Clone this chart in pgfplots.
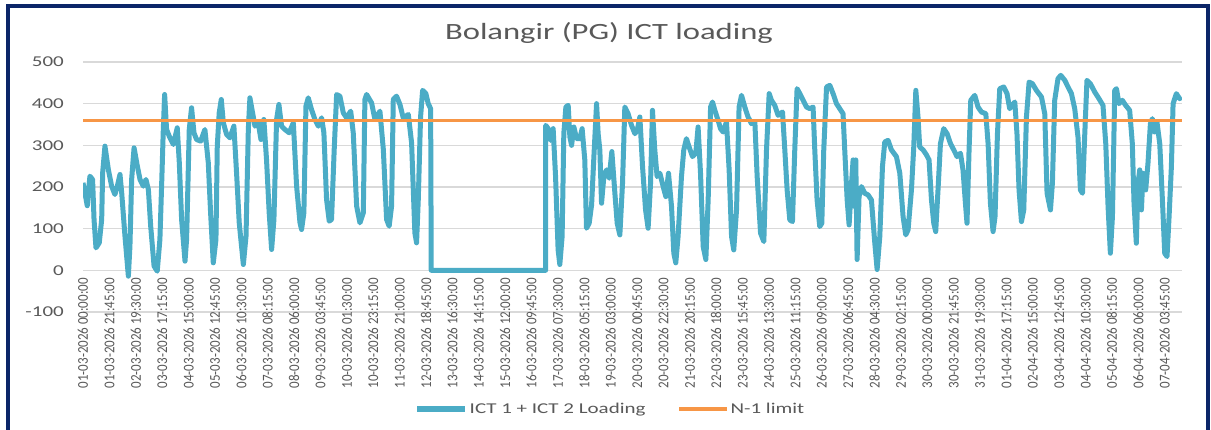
\documentclass[border=0pt]{standalone}
\usepackage{fontspec}
\setmainfont{Carlito}
\usepackage{graphicx}
\usepackage{pgfplots}
\pgfplotsset{compat=1.18}
\definecolor{ictblue}{HTML}{4BACC6}
\definecolor{nlim}{HTML}{F79646}
\definecolor{txtgray}{HTML}{595959}
\definecolor{gridgray}{HTML}{D9D9D9}
\definecolor{brd}{HTML}{0B2568}
\newcommand\sx[1]{\scalebox{1.4}[1]{#1}}
\newcommand\sv[1]{\scalebox{1}[1.15]{#1}}
\begin{document}
\begin{tikzpicture}
\useasboundingbox (0,0) rectangle (1211bp,430bp);
\fill[white] (0,0) rectangle (1211bp,430bp);
\begin{axis}[
  at={(83bp,118bp)}, anchor=south west,
  scale only axis, width=1099bp, height=250bp,
  xmin=0, xmax=906, ymin=-100, ymax=500,
  axis line style={draw=none},
  major tick length=0pt,
  ytick={-100,0,100,200,300,400,500},
  yticklabels={\sx{-100},\sx{0},\sx{100},\sx{200},\sx{300},\sx{400},\sx{500}},
  ymajorgrids,
  grid style={draw=gridgray, line width=1.2bp},
  yticklabel style={font=\fontsize{15bp}{18bp}\selectfont, text=txtgray, inner sep=0pt},
  yticklabel shift=19bp,
  xtick={0,21.75,43.5,65.25,87,108.75,130.5,152.25,174,195.75,217.5,239.25,261,282.75,304.5,326.25,348,369.75,391.5,413.25,435,456.75,478.5,500.25,522,543.75,565.5,587.25,609,630.75,652.5,674.25,696,717.75,739.5,761.25,783,804.75,826.5,848.25,870,891.75},
  xticklabels={\sv{01-03-2026 00:00:00},\sv{01-03-2026 21:45:00},\sv{02-03-2026 19:30:00},\sv{03-03-2026 17:15:00},\sv{04-03-2026 15:00:00},\sv{05-03-2026 12:45:00},\sv{06-03-2026 10:30:00},\sv{07-03-2026 08:15:00},\sv{08-03-2026 06:00:00},\sv{09-03-2026 03:45:00},\sv{10-03-2026 01:30:00},\sv{10-03-2026 23:15:00},\sv{11-03-2026 21:00:00},\sv{12-03-2026 18:45:00},\sv{13-03-2026 16:30:00},\sv{14-03-2026 14:15:00},\sv{15-03-2026 12:00:00},\sv{16-03-2026 09:45:00},\sv{17-03-2026 07:30:00},\sv{18-03-2026 05:15:00},\sv{19-03-2026 03:00:00},\sv{20-03-2026 00:45:00},\sv{20-03-2026 22:30:00},\sv{21-03-2026 20:15:00},\sv{22-03-2026 18:00:00},\sv{23-03-2026 15:45:00},\sv{24-03-2026 13:30:00},\sv{25-03-2026 11:15:00},\sv{26-03-2026 09:00:00},\sv{27-03-2026 06:45:00},\sv{28-03-2026 04:30:00},\sv{29-03-2026 02:15:00},\sv{30-03-2026 00:00:00},\sv{30-03-2026 21:45:00},\sv{31-03-2026 19:30:00},\sv{01-04-2026 17:15:00},\sv{02-04-2026 15:00:00},\sv{03-04-2026 12:45:00},\sv{04-04-2026 10:30:00},\sv{05-04-2026 08:15:00},\sv{06-04-2026 06:00:00},\sv{07-04-2026 03:45:00}},
  xticklabel style={font=\fontsize{13bp}{15bp}\selectfont, text=txtgray, rotate=90, anchor=east, inner sep=0pt},
  xticklabel shift=-34bp,
  legend style={at={(0.48,-0.388)}, anchor=center, draw=none, fill=none,
    legend columns=2, font=\fontsize{15bp}{18bp}\selectfont, text=txtgray,
    /tikz/every even column/.append style={column sep=30bp}},
  legend image code/.code={\draw[#1] (0bp,0bp) -- (48bp,0bp);},
]
\addplot[ictblue, line width=5bp, line join=round] coordinates {
(0,210) (1.6,186) (3.5,155) (5.7,226) (7.9,218) (9.1,122) (10.7,54) (13.4,66) (15.4,122) (16.2,234) (18.1,298) (20.9,242) (23.6,202) (26.3,182) (28.3,202) (30.5,230) (31.9,186) (34.6,82) (37.4,-14) (38.7,58) (40.1,218) (42.1,294) (44.8,250) (47.0,218) (49.7,202) (51.9,218) (53.9,194) (55.8,106) (58.6,10) (61.2,-2) (63.4,74) (64.8,202) (66.2,338) (67.3,422) (68.9,338) (71.1,322) (74.5,302) (77.7,342) (79.4,258) (81.3,122) (84.1,22) (85.4,74) (87.6,338) (89.5,390) (91.5,330) (93.6,314) (97.0,310) (100.5,338) (103.3,258) (105.2,138) (107.4,18) (109.6,74) (110.7,298) (112.3,378) (114.0,410) (115.7,354) (118.4,326) (121.1,318) (124.4,346) (126.6,234) (128.8,114) (132.2,14) (134.4,82) (136.3,338) (137.6,414) (139.8,378) (141.8,346) (144.5,354) (146.7,314) (149.1,362) (151.3,266) (153.5,138) (155.5,50) (157.4,122) (159.6,362) (161.5,398) (163.7,346) (166.5,338) (170.0,330) (173.4,354) (176.1,202) (178.9,114) (180.2,98) (182.1,138) (183.8,394) (185.7,414) (188.4,386) (191.2,362) (194.0,346) (196.7,366) (198.6,330) (200.8,170) (203.0,118) (204.9,122) (207.1,290) (209.1,422) (211.8,418) (214.6,378) (217.3,366) (220.7,382) (222.8,330) (225.6,154) (228.3,114) (231.1,138) (232.4,410) (233.8,422) (237.9,402) (240.7,362) (244.8,382) (247.6,290) (250.3,122) (252.4,106) (254.4,154) (255.8,410) (258.5,418) (261.3,398) (264.0,366) (268.2,374) (270.9,306) (273.6,90) (275.0,66) (276.4,169) (278.3,368) (280.0,432) (282.7,424) (284.6,400) (286.6,388) (287.1,0) (381.4,0)
(381.5,348) (383.5,340) (385.5,312) (387.6,340) (389.6,225) (391.7,49) (393.1,14) (395.0,81) (396.4,328) (398.1,392) (400.0,396) (401.4,320) (402.8,300) (404.7,344) (406.9,316) (409.6,316) (411.5,340) (413.7,265) (415.1,101) (417.3,113) (419.3,157) (421.2,273) (423.4,400) (424.7,328) (426.1,289) (427.5,161) (429.4,225) (431.6,241) (433.8,221) (436.0,285) (438.5,185) (440.4,113) (442.6,85) (444.8,209) (446.7,392) (449.4,376) (452.2,348) (455.0,328) (456.9,336) (459.1,368) (461.3,249) (463.8,145) (465.9,101) (467.9,209) (469.5,384) (471.4,289) (473.3,225) (475.6,233) (478.3,201) (480.5,177) (482.7,233) (485.2,153) (487.1,41) (488.7,18) (490.6,81) (493.4,225) (495.3,289) (497.5,316) (499.7,296) (502.5,273) (505.2,281) (507.1,344) (509.1,233) (511.3,57) (513.5,26) (515.4,169) (517.4,392) (519.0,404) (520.9,384) (523.6,360) (525.6,340) (527.7,332) (530.5,356) (532.7,241) (534.7,81) (536.5,49) (538.8,145) (540.9,392) (542.9,420) (545.6,392) (548.3,368) (551.1,352) (553.9,356) (555.8,225) (558.6,89) (561.3,69) (563.5,289) (565.7,424) (567.6,408) (570.3,396) (573.1,372) (576.7,380) (578.6,289) (580.5,193) (582.7,121) (584.9,117) (586.8,289) (588.7,436) (591.0,424) (593.7,408) (596.5,392) (599.2,388) (601.9,392) (603.3,289) (605.2,169) (607.4,105) (609.1,113) (610.7,289) (613.0,440) (615.7,444) (618.4,424) (621.2,400) (623.9,388) (626.6,376) (628.0,289) (630.0,169) (631.6,109) (633.6,209) (634.9,265) (636.3,153) (637.1,265) (638.2,26) (639.8,177) (641.8,201) (644.5,185) (647.2,181) (650.0,169) (652.8,65) (654.7,2) (656.9,81) (659.1,249) (661.0,308) (663.7,312) (666.5,289) (670.6,273) (673.4,233) (676.1,129) (678.3,85) (680.2,97) (683.0,193) (684.9,296) (686.6,432) (688.4,368) (689.8,296) (692.6,289) (695.4,277) (697.5,265) (699.5,169) (701.4,113) (703.0,93) (704.9,193) (706.9,304) (709.6,340) (712.4,328) (715.2,304) (717.9,289) (720.6,273) (723.4,281) (725.5,241) (727.5,161) (728.8,113) (730.5,289) (731.9,408) (735.2,420) (737.9,392) (740.7,380) (744.3,376) (746.2,304) (748.1,161) (750.3,93) (751.9,129) (753.9,328) (755.8,436) (759.1,440) (761.8,424) (764.0,388) (768.2,404) (770.0,328) (771.7,193) (773.7,117) (775.6,145) (777.8,368) (780.0,452) (782.7,448) (786.0,432) (790.2,416) (792.9,376) (794.8,185) (797.6,145) (799.2,209) (801.1,408) (803.8,460) (806.1,468) (809.4,456) (812.1,440) (814.9,424) (817.6,388) (820.3,320) (822.3,193) (824.0,185) (825.9,328) (827.7,456) (830.5,448) (834.1,428) (837.6,412) (840.9,396) (843.2,304) (845.1,153) (847.0,41) (848.7,129) (850.6,432) (852.0,436) (854.1,400) (856.9,408) (859.6,396) (862.9,384) (865.1,304) (866.5,161) (868.4,65) (869.8,209) (871.2,241) (872.6,145) (873.9,233) (876.1,193) (878.0,257) (880.0,352) (881.6,364) (883.5,332) (885.4,356) (887.7,304) (889.9,169) (891.8,41) (893.7,33) (895.4,129) (897.3,249) (898.7,400) (901.4,424) (904.1,412) (905.5,416)
};
\addlegendentry{\sx{ICT 1 + ICT 2 Loading}}
\addplot[nlim, line width=3bp] coordinates {(0,360) (906,360)};
\addlegendentry{\sx{N-1 limit}}
\end{axis}
\node[anchor=base, font=\fontsize{23.3bp}{28bp}\selectfont, text=txtgray] at (609bp,390bp) {\sx{Bolangir (PG) ICT loading}};
\draw[brd, line width=4bp] (8bp,-4bp) rectangle (1208bp,424.3bp);
\end{tikzpicture}
\end{document}
